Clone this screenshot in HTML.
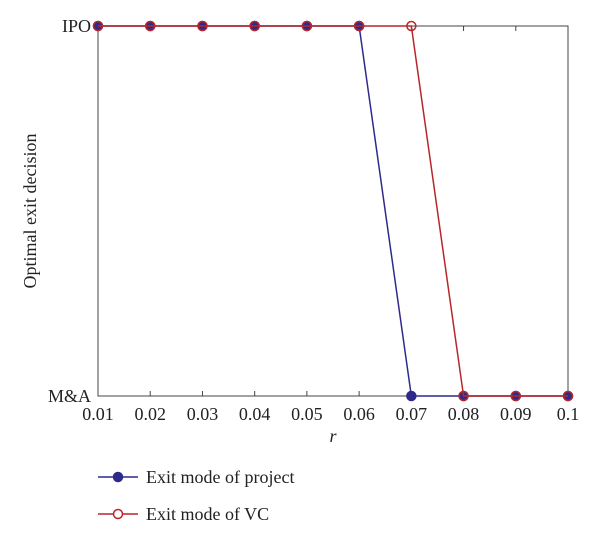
<!DOCTYPE html>
<html><head><meta charset="utf-8"><style>
body{margin:0;background:#fff}
svg text{font-family:"Liberation Serif",serif;fill:#222}
</style></head><body>
<svg width="600" height="540">
<g id="plot"></g>
</svg>
<script>
const rValues=[0.01,0.02,0.03,0.04,0.05,0.06,0.07,0.08,0.09,0.1];
const projectExit=[1,1,1,1,1,1,0,0,0,0];
const vcExit=[1,1,1,1,1,1,1,0,0,0];
const xTickLabels=["0.01","0.02","0.03","0.04","0.05","0.06","0.07","0.08","0.09","0.1"];
const yTickLabels=["M&A","IPO"];

const L=98,R=568,T=26,B=396;
const xs=v=>L+(v-0.01)/(0.1-0.01)*(R-L);
const ys=v=>B-v*(B-T);
const NS="http://www.w3.org/2000/svg";
const g=document.getElementById('plot');
function mk(tag,attrs,parent){const e=document.createElementNS(NS,tag);for(const k in attrs)e.setAttribute(k,attrs[k]);(parent||g).appendChild(e);return e;}

const frame=mk('rect',{x:L,y:T,width:R-L,height:B-T,fill:'none',stroke:'#444','stroke-width':1});



rValues.forEach((v,i)=>{
  const x=xs(v);
  const t1=mk('line',{x1:x,x2:x,y1:B,y2:B-5,stroke:'#444'});
  
  
  const t2=mk('line',{x1:x,x2:x,y1:T,y2:T+5,stroke:'#444'});
  
  
  const tx=mk('text',{x:x,y:B+24,'text-anchor':'middle','font-size':18});
  tx.textContent=xTickLabels[i];
  
  
});
yTickLabels.forEach((lab,i)=>{
  const tx=mk('text',{x:L-7,y:ys(i)+6,'text-anchor':'end','font-size':18});
  tx.textContent=lab;
  
  
});
const xt=mk('text',{x:333,y:442,'text-anchor':'middle','font-size':18,'font-style':'italic'});
xt.textContent='r';


const yt=mk('text',{x:0,y:0,'text-anchor':'middle','font-size':18,transform:'translate(36,211) rotate(-90)'});
yt.textContent='Optimal exit decision';



function series(vals,color,filled,name){
  const pts=rValues.map((v,i)=>xs(v)+','+ys(vals[i])).join(' ');
  const pl=mk('polyline',{points:pts,fill:'none',stroke:color,'stroke-width':1.5});
  
  
  rValues.forEach((v,i)=>{
    const c=mk('circle',{cx:xs(v),cy:ys(vals[i]),r:4.5,fill:filled?color:'none',stroke:color,'stroke-width':1.5});
    
    
  });
}
series(projectExit,'#2e2a8c',true,'project-exit');
series(vcExit,'#b8262a',false,'vc-exit');

function legend(y,color,filled,label,name){
  const l=mk('line',{x1:98,x2:138,y1:y,y2:y,stroke:color,'stroke-width':1.5});
  
  
  const c=mk('circle',{cx:118,cy:y,r:4.5,fill:filled?color:'#fff',stroke:color,'stroke-width':1.5});
  
  
  const t=mk('text',{x:146,y:y+6,'font-size':18});
  t.textContent=label;
  
  
}
legend(477,'#2e2a8c',true,'Exit mode of project','legend-project');
legend(514,'#b8262a',false,'Exit mode of VC','legend-vc');
</script>
</body></html>
